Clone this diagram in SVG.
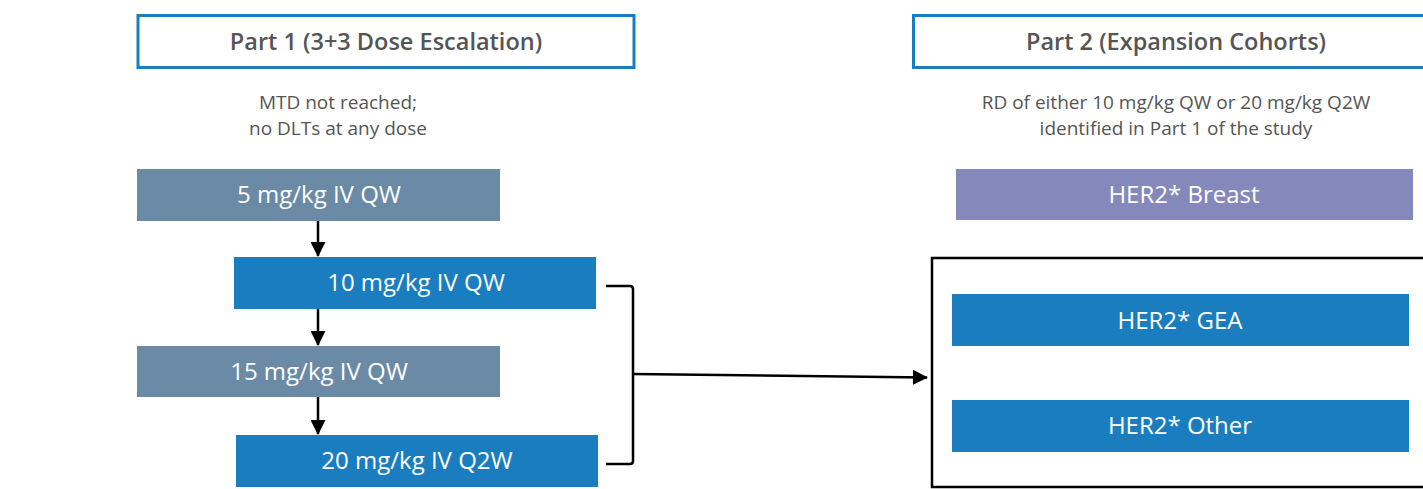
<svg xmlns="http://www.w3.org/2000/svg" width="1423" height="489" viewBox="0 0 1423 489">
<style>
.hdr{fill:#fff;stroke:#1a7dc0;stroke-width:3}
.htxt{font-family:"Open Sans","Liberation Sans",sans-serif;font-weight:600;font-size:23.5px;fill:#555;text-anchor:middle}
.note{font-family:"Open Sans","Liberation Sans",sans-serif;font-size:19px;fill:#555;text-anchor:middle}
.btxt{font-family:"Open Sans","Liberation Sans",sans-serif;font-size:24px;fill:#fff;text-anchor:middle}
.blue{fill:#1a7dbf}
.grey{fill:#6a8aa6}
.purple{fill:#8488bb}
.conn{stroke:#000;stroke-width:2.5;fill:none}
</style>
<defs>
<marker id="ah" markerWidth="15" markerHeight="15" refX="14" refY="7.5" orient="auto" markerUnits="userSpaceOnUse">
<path d="M0,0 L15,7.5 L0,15 Z" fill="#000"/>
</marker>
</defs>
<rect width="1423" height="489" fill="#fff"/>
<g id="part1">
<rect class="hdr" x="138" y="15.5" width="496" height="52"/>
<text class="htxt" x="386" y="50">Part 1 (3+3 Dose Escalation)</text>
</g>
<g id="note1">
<text class="note" x="338" y="109">MTD not reached;</text>
<text class="note" x="338" y="135">no DLTs at any dose</text>
</g>
<g id="dose5">
<rect class="grey" x="137" y="169" width="363" height="52"/>
<text class="btxt" x="319" y="203">5 mg/kg IV QW</text>
</g>
<g id="dose10">
<rect class="blue" x="234" y="257" width="362" height="52"/>
<text class="btxt" x="416" y="291">10 mg/kg IV QW</text>
</g>
<g id="dose15">
<rect class="grey" x="137" y="346" width="363" height="51"/>
<text class="btxt" x="319" y="380">15 mg/kg IV QW</text>
</g>
<g id="dose20">
<rect class="blue" x="236" y="435" width="362" height="52"/>
<text class="btxt" x="417" y="469">20 mg/kg IV Q2W</text>
</g>
<g id="part2">
<rect class="hdr" x="913.5" y="15.5" width="520" height="52"/>
<text class="htxt" x="1176" y="50">Part 2 (Expansion Cohorts)</text>
</g>
<g id="note2">
<text class="note" x="1176" y="109">RD of either 10 mg/kg QW or 20 mg/kg Q2W</text>
<text class="note" x="1176" y="135">identified in Part 1 of the study</text>
</g>
<g id="breast">
<rect class="purple" x="956" y="169" width="457" height="51"/>
<text class="btxt" x="1184" y="203">HER2* Breast</text>
</g>
<g id="cohortbox">
<rect x="932" y="258" width="500" height="229" fill="none" stroke="#000" stroke-width="2.5"/>
</g>
<g id="gea">
<rect class="blue" x="952" y="294" width="457" height="52"/>
<text class="btxt" x="1180" y="329">HER2* GEA</text>
</g>
<g id="other">
<rect class="blue" x="952" y="400" width="457" height="52"/>
<text class="btxt" x="1180" y="434">HER2* Other</text>
</g>
<g id="connectors">
<line class="conn" x1="318" y1="221" x2="318" y2="256" marker-end="url(#ah)"/>
<line class="conn" x1="318" y1="309" x2="318" y2="345" marker-end="url(#ah)"/>
<line class="conn" x1="318" y1="397" x2="318" y2="434" marker-end="url(#ah)"/>
<path class="conn" d="M606,286 L630,286 Q633,286 633,289 L633,461 Q633,464 630,464 L606,464"/>
<line class="conn" x1="633" y1="374" x2="927" y2="377.5" marker-end="url(#ah)"/>
</g>
</svg>
